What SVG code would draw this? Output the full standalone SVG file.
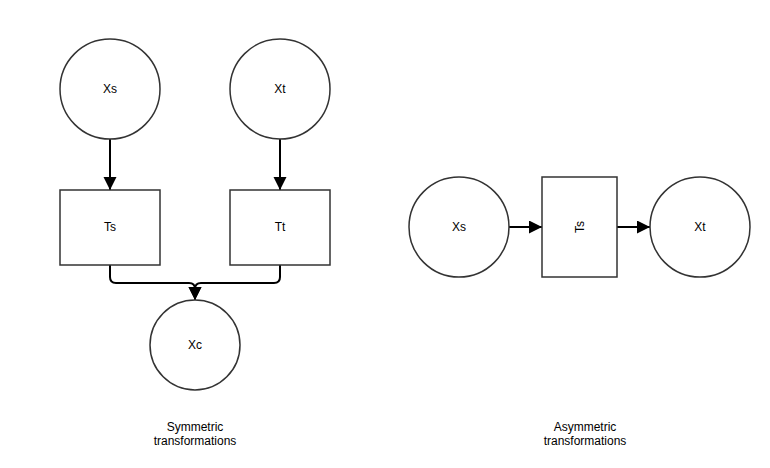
<svg xmlns="http://www.w3.org/2000/svg" width="770" height="468" viewBox="0 0 770 468">
<defs>
<marker id="arr" markerUnits="userSpaceOnUse" markerWidth="14" markerHeight="14" refX="13" refY="6.5" orient="auto">
<path d="M0,0 L13,6.5 L0,13 Z" fill="#000"/>
</marker>
</defs>
<style>
.shape{fill:#fff;stroke:#333;stroke-width:1.5}
.lbl{font-family:"Liberation Sans",Arial,sans-serif;font-size:12px;fill:#000;text-anchor:middle}
.conn{fill:none;stroke:#000;stroke-width:2}
</style>
<rect width="770" height="468" fill="#fff"/>
<g id="connectors">
<path class="conn" d="M110,139 V190" marker-end="url(#arr)"/>
<path class="conn" d="M280,139 V190" marker-end="url(#arr)"/>
<path class="conn" d="M110,265 V277 Q110,283 116,283 H189 Q195,283 195,289 V300" marker-end="url(#arr)"/>
<path class="conn" d="M280,265 V277 Q280,283 274,283 H201 Q195,283 195,289 V300" marker-end="url(#arr)"/>
<path class="conn" d="M509,227 H542" marker-end="url(#arr)"/>
<path class="conn" d="M617,227 H650" marker-end="url(#arr)"/>
</g>
<g id="sym-xs"><circle class="shape" cx="110" cy="89" r="50"/><text class="lbl" x="110" y="93">Xs</text></g>
<g id="sym-xt"><circle class="shape" cx="280" cy="89" r="50"/><text class="lbl" x="280" y="93">Xt</text></g>
<g id="sym-ts"><rect class="shape" x="60" y="190" width="100" height="75"/><text class="lbl" x="110" y="231">Ts</text></g>
<g id="sym-tt"><rect class="shape" x="230" y="190" width="100" height="75"/><text class="lbl" x="280" y="231">Tt</text></g>
<g id="sym-xc"><circle class="shape" cx="195" cy="345" r="45"/><text class="lbl" x="195" y="349">Xc</text></g>
<g id="asym-xs"><circle class="shape" cx="459" cy="227" r="50"/><text class="lbl" x="459" y="231">Xs</text></g>
<g id="asym-ts"><rect class="shape" x="542" y="177" width="75" height="100"/><text class="lbl" transform="translate(583.5,227) rotate(-90)" x="0" y="0">Ts</text></g>
<g id="asym-xt"><circle class="shape" cx="700" cy="227" r="50"/><text class="lbl" x="700" y="231">Xt</text></g>
<g id="label-sym"><text class="lbl" x="195" y="431">Symmetric</text><text class="lbl" x="195" y="445">transformations</text></g>
<g id="label-asym"><text class="lbl" x="585" y="431">Asymmetric</text><text class="lbl" x="585" y="445">transformations</text></g>
</svg>
